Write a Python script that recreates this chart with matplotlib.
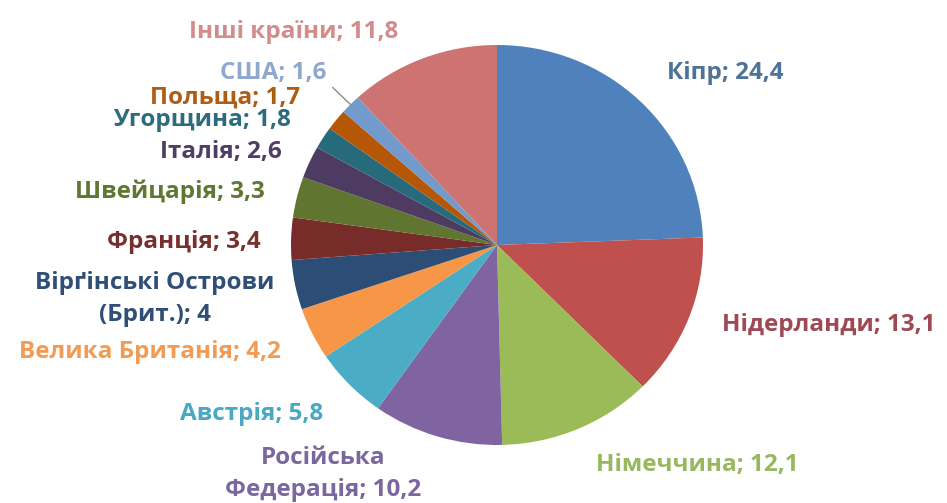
import matplotlib.pyplot as plt
import numpy as np

plt.rcParams['font.family'] = ['Open Sans', 'DejaVu Sans']

# Країни та частки, %
countries = ['Кіпр', 'Нідерланди', 'Німеччина', 'Російська\nФедерація', 'Австрія',
             'Велика Британія', 'Вірґінські Острови\n(Брит.)', 'Франція', 'Швейцарія',
             'Італія', 'Угорщина', 'Польща', 'США', 'Інші країни']
shares = [24.4, 13.1, 12.1, 10.2, 5.8, 4.2, 4, 3.4, 3.3, 2.6, 1.8, 1.7, 1.6, 11.8]

slice_colors = ['#4F81BD', '#C0504D', '#9BBB59', '#8064A2', '#4BACC6', '#F79646',
                '#2C4D75', '#772C2A', '#5F7530', '#4D3B62', '#276A7C', '#B65708',
                '#729ACA', '#CD7371']
text_colors = ['#4E7399', '#9E4A55', '#97B85F', '#7A679E', '#4AA8C2', '#F29B55',
               '#2F4F78', '#77302E', '#627634', '#4F3E63', '#2D6C7C', '#B05C14',
               '#8FA8CF', '#D38C8C']

# label centres in pixels (x, y from top-left)
label_pos = [(725, 73), (829, 325), (697, 465), (323, 474), (252, 414), (150, 352),
             (155, 299), (184, 242), (170, 192), (221, 152), (202, 120), (225, 98),
             (273, 73), (294, 32)]

W, H = 947, 503
fig = plt.figure(figsize=(W / 100, H / 100), dpi=100)

# pie box: x 291..703, y 45..445 (pixels)
ax = fig.add_axes([291 / W, 1 - 445 / H, 412 / W, 400 / H])
wedges, _ = ax.pie(shares, colors=slice_colors, startangle=90, counterclock=False,
                   radius=1, wedgeprops=dict(linewidth=0))
ax.set_xlim(-1, 1)
ax.set_ylim(-1, 1)
ax.set_aspect('auto')
ax.axis('off')

for name, val, col, (px, py) in zip(countries, shares, text_colors, label_pos):
    txt = name + '; ' + f"{val:g}".replace('.', ',')
    fig.text(px / W, 1 - py / H, txt, color=col, fontsize=17.5, fontweight='bold',
             ha='center', va='center', multialignment='center', linespacing=1.45)

# leader line for the small USA slice
usa = wedges[countries.index('США')]
a = np.deg2rad((usa.theta1 + usa.theta2) / 2)
ax.plot([np.cos(a) * 0.99, np.cos(a) * 1.12], [np.sin(a) * 0.99, np.sin(a) * 1.12],
        color='#8C8C8C', linewidth=1, clip_on=False)

fig.savefig('out.png', dpi=100, facecolor='white')
